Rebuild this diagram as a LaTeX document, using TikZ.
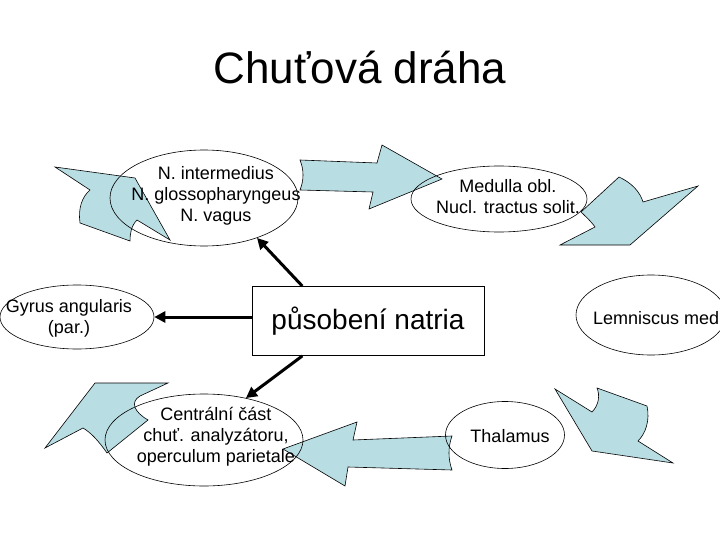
\documentclass[tikz,border=0pt]{standalone}
\usepackage{fontspec}
\setmainfont{Liberation Sans}
\usetikzlibrary{shapes.geometric,arrows.meta}
\definecolor{flowblue}{HTML}{B8DDE2}
\tikzset{
  relay/.style={ellipse, draw, line width=0.6pt, inner sep=0pt},
  relaytext/.style={align=center, inner sep=0pt, font=\fontsize{18}{21}\selectfont},
  flowarrow/.style={fill=flowblue, draw=black, line width=0.6pt, line join=miter},
  actarrow/.style={-{Triangle[length=11pt,width=11pt]}, line width=3pt},
}

\begin{document}
\begin{tikzpicture}[x=1pt,y=-1pt]
  \useasboundingbox (0,0) rectangle (720,540);
  \node[font=\fontsize{44}{50}\selectfont] (title) at (360,68) {Chuťová dráha};
  % blue arrows round the cycle
  \filldraw[flowarrow] (55,167) -- (135,178) -- (170,240) -- (137,220)
    .. controls (131,226) and (130,234) .. (130,241) -- (80,223)
    .. controls (78,208) and (82,197) .. (90,190) -- cycle;
  \filldraw[flowarrow] (300,160) -- (377,163) -- (382,145) -- (442,179)
    -- (369,209) -- (373,192) -- (300,190) .. controls (304,180) and (304,170) .. cycle;
  \filldraw[flowarrow] (560,245) -- (595,227) .. controls (590,220) and (585,216) .. (581,212)
    -- (619,177) .. controls (632,183) and (640,192) .. (643,202) -- (698,186) -- (630,245) -- cycle;
  \filldraw[flowarrow] (555,389) -- (592,412) .. controls (599,405) and (600,395) .. (597,388)
    -- (647,406) .. controls (650,420) and (646,433) .. (638,441) -- (673,463) -- (592,451) -- cycle;
  \filldraw[flowarrow] (283,449) -- (357,422) -- (353,440) -- (452,436)
    .. controls (448,447) and (448,459) .. (452,470) -- (348,467) -- (345,486) -- cycle;
  \filldraw[flowarrow] (45,448) -- (95,383) -- (168,383) -- (140,396)
    .. controls (130,402) and (134,412) .. (148,420) -- (107,453)
    .. controls (98,440) and (90,432) .. (83,428) -- cycle;
  % stations
  \node[relay, minimum width=188pt, minimum height=96pt] (intermedius) at (204,198) {};
  \node[relay, minimum width=176pt, minimum height=66pt] (medulla) at (499,199) {};
  \node[relay, minimum width=154pt, minimum height=64pt] (gyrus) at (77,317) {};
  \node[relay, minimum width=150pt, minimum height=80pt] (lemniscus) at (651,315) {};
  \node[relay, minimum width=198pt, minimum height=92pt] (centralni) at (204,440) {};
  \node[relay, minimum width=119pt, minimum height=67pt] (thalamus) at (505,435) {};
  \node[relaytext] (intermediuslabel) at (216,196) {N. intermedius\\N. glossopharyngeus\\N. vagus};
  \node[relaytext] (medullalabel) at (508,197) {Medulla obl.\\Nucl. tractus solit.};
  \node[relaytext] (gyruslabel) at (69,318) {Gyrus angularis\\(par.)};
  \node[relaytext, anchor=west] (lemniscuslabel) at (593,318) {Lemniscus med};
  \node[relaytext] (centralnilabel) at (216,437) {Centrální část\\chuť. analyzátoru,\\operculum parietale};
  \node[relaytext] (thalamuslabel) at (510,436) {Thalamus};
  % sodium box
  \node[draw, line width=0.8pt, fill=white, minimum width=232pt, minimum height=69pt,
    font=\fontsize{28}{32}\selectfont] (natria) at (368,321) {působení natria};
  \draw[actarrow] (natria.152) -- (intermedius.-37);
  \draw[actarrow] (natria.west |- gyrus.east) -- (gyrus.east);
  \draw[actarrow] (natria.208) -- (centralni.45);
\end{tikzpicture}
\end{document}
